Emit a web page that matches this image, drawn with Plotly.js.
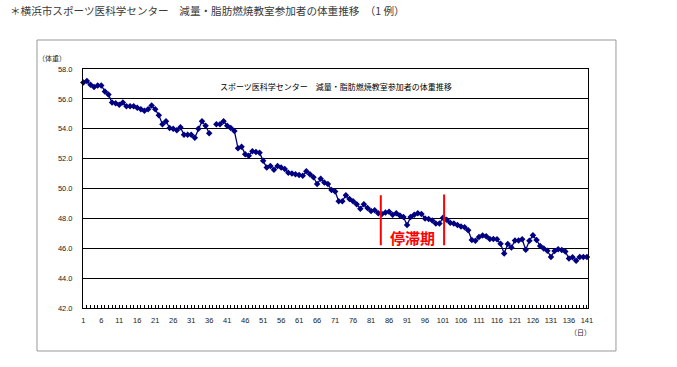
<!DOCTYPE html>
<html>
<head>
<meta charset="utf-8">
<script src="https://cdn.plot.ly/plotly-3.0.1.min.js"></script>
<style>html,body{margin:0;padding:0;background:#fff;}#chart{width:677px;height:367px;}</style>
</head>
<body>
<div id="chart"></div>
<script>
// Days 1..141 (day 37 missing)
const days = Array.from({length: 141}, (_, i) => i + 1);
const weights = [
  57.1, 57.2, 56.95, 56.8, 56.9, 56.9, 56.5, 56.3, 55.75, 55.7,
  55.6, 55.75, 55.5, 55.5, 55.5, 55.4, 55.3, 55.2, 55.3, 55.55,
  55.3, 54.9, 54.3, 54.5, 54.05, 54.0, 53.9, 54.1, 53.6, 53.6,
  53.6, 53.4, 54.0, 54.5, 54.2, 53.7, null, 54.3, 54.3, 54.5,
  54.2, 54.05, 53.85, 52.7, 52.8, 52.3, 52.2, 52.5, 52.45, 52.4,
  51.85, 51.4, 51.5, 51.25, 51.5, 51.4, 51.3, 51.05, 51.0, 50.95,
  50.9, 50.85, 51.15, 50.95, 50.75, 50.3, 50.65, 50.4, 50.3, 49.9,
  49.8, 49.15, 49.15, 49.55, 49.3, 49.15, 48.95, 48.65, 48.95, 48.7,
  48.5, 48.55, 48.35, 48.3, 48.4, 48.45, 48.25, 48.35, 48.2, 48.1,
  47.55, 48.1, 48.25, 48.35, 48.3, 48.0, 47.95, 47.85, 47.65, 47.65,
  48.05, 47.9, 47.7, 47.65, 47.55, 47.45, 47.4, 47.2, 46.55, 46.5,
  46.75, 46.85, 46.8, 46.62, 46.62, 46.6, 46.3, 45.65, 46.28, 46.05,
  46.52, 46.52, 46.6, 45.9, 46.5, 46.87, 46.55, 46.15, 45.98, 45.83,
  45.42, 45.82, 45.93, 45.89, 45.78, 45.31, 45.4, 45.16, 45.42, 45.42,
  45.42
];
const xTickVals = [1, 6, 11, 16, 21, 26, 31, 36, 41, 46, 51, 56, 61, 66, 71, 76, 81, 86, 91, 96, 101, 106, 111, 116, 121, 126, 131, 136, 141];
const xTickText = xTickVals.map(String);
const yTickVals = [42, 44, 46, 48, 50, 52, 54, 56, 58];
const yTickText = ["42.0", "44.0", "46.0", "48.0", "50.0", "52.0", "54.0", "56.0", "58.0"];

const pageTitle = "＊横浜市スポーツ医科学センター　減量・脂肪燃焼教室参加者の体重推移　（1 例）";
const chartTitle = "スポーツ医科学センター　減量・脂肪燃焼教室参加者の体重推移";
const plateauLabel = "停滞期";
const plateauStart = 83.7;
const plateauEnd = 101.3;

const jp = '"Noto Sans CJK JP", "Noto Sans", sans-serif';
const tickFont = {family: '"Liberation Sans", Arial, sans-serif', size: 7.5, color: '#222'};

const trace = {
  x: days, y: weights, type: 'scatter', mode: 'lines+markers',
  line: {color: '#000080', width: 1.3},
  marker: {symbol: 'diamond', size: 5, color: '#000080'},
  connectgaps: false, cliponaxis: false, hoverinfo: 'x+y'
};

const layout = {
  width: 677, height: 367,
  margin: {l: 83, r: 89, t: 69, b: 59},
  paper_bgcolor: '#fff', plot_bgcolor: '#fff',
  showlegend: false,
  xaxis: {
    range: [0.92, 141.3], tickmode: 'array', tickvals: xTickVals, ticktext: xTickText,
    ticks: 'inside', ticklen: 3, tickcolor: '#000', tickfont: tickFont,
    ticklabelstandoff: 5,
    minor: {ticks: 'inside', dtick: 1, tick0: 1, ticklen: 3, tickcolor: '#000', showgrid: false},
    showgrid: false, zeroline: false,
    showline: true, linecolor: '#000', linewidth: 1, mirror: true
  },
  yaxis: {
    range: [42, 58], tickmode: 'array', tickvals: yTickVals, ticktext: yTickText,
    ticks: '', tickfont: tickFont, ticklabelstandoff: 8,
    showgrid: true, gridcolor: '#000', gridwidth: 1, zeroline: false,
    showline: true, linecolor: '#000', linewidth: 1, mirror: true
  },
  shapes: [
    {type: 'rect', xref: 'paper', yref: 'paper', x0: -0.0911, x1: 1.0554, y0: -0.1799, y1: 1.1213,
     line: {color: '#999', width: 1}, fillcolor: 'rgba(0,0,0,0)', layer: 'below'},
    {type: 'line', xref: 'x', yref: 'y', x0: plateauStart, x1: plateauStart, y0: 46.2, y1: 49.55,
     line: {color: '#ff0000', width: 2}},
    {type: 'line', xref: 'x', yref: 'y', x0: plateauEnd, x1: plateauEnd, y0: 46.2, y1: 49.6,
     line: {color: '#ff0000', width: 2}}
  ],
  annotations: [
    {text: pageTitle, xref: 'paper', yref: 'paper', x: -0.149, y: 1.243, xanchor: 'left', yanchor: 'middle',
     showarrow: false, font: {family: jp, size: 10.6, color: '#3a3a3a'}},
    {text: chartTitle, xref: 'paper', yref: 'paper', x: 0.5, y: 0.925, xanchor: 'center', yanchor: 'middle',
     showarrow: false, font: {family: jp, size: 8, color: '#000'}},
    {text: '<b>' + plateauLabel + '</b>', xref: 'x', yref: 'y', x: (plateauStart + plateauEnd) / 2, y: 46.75,
     xanchor: 'center', yanchor: 'middle', showarrow: false, font: {family: jp, size: 15, color: '#ff0000'}},
    {text: '（体重）', xref: 'paper', yref: 'paper', x: -0.03, y: 1.046, xanchor: 'right', yanchor: 'middle',
     showarrow: false, font: {family: jp, size: 7, color: '#222'}},
    {text: '（日）', xref: 'paper', yref: 'paper', x: 0.985, y: -0.1, xanchor: 'center', yanchor: 'middle',
     showarrow: false, font: {family: jp, size: 7, color: '#222'}}
  ]
};

Plotly.newPlot('chart', [trace], layout, {displayModeBar: false, staticPlot: true});
</script>
</body>
</html>
